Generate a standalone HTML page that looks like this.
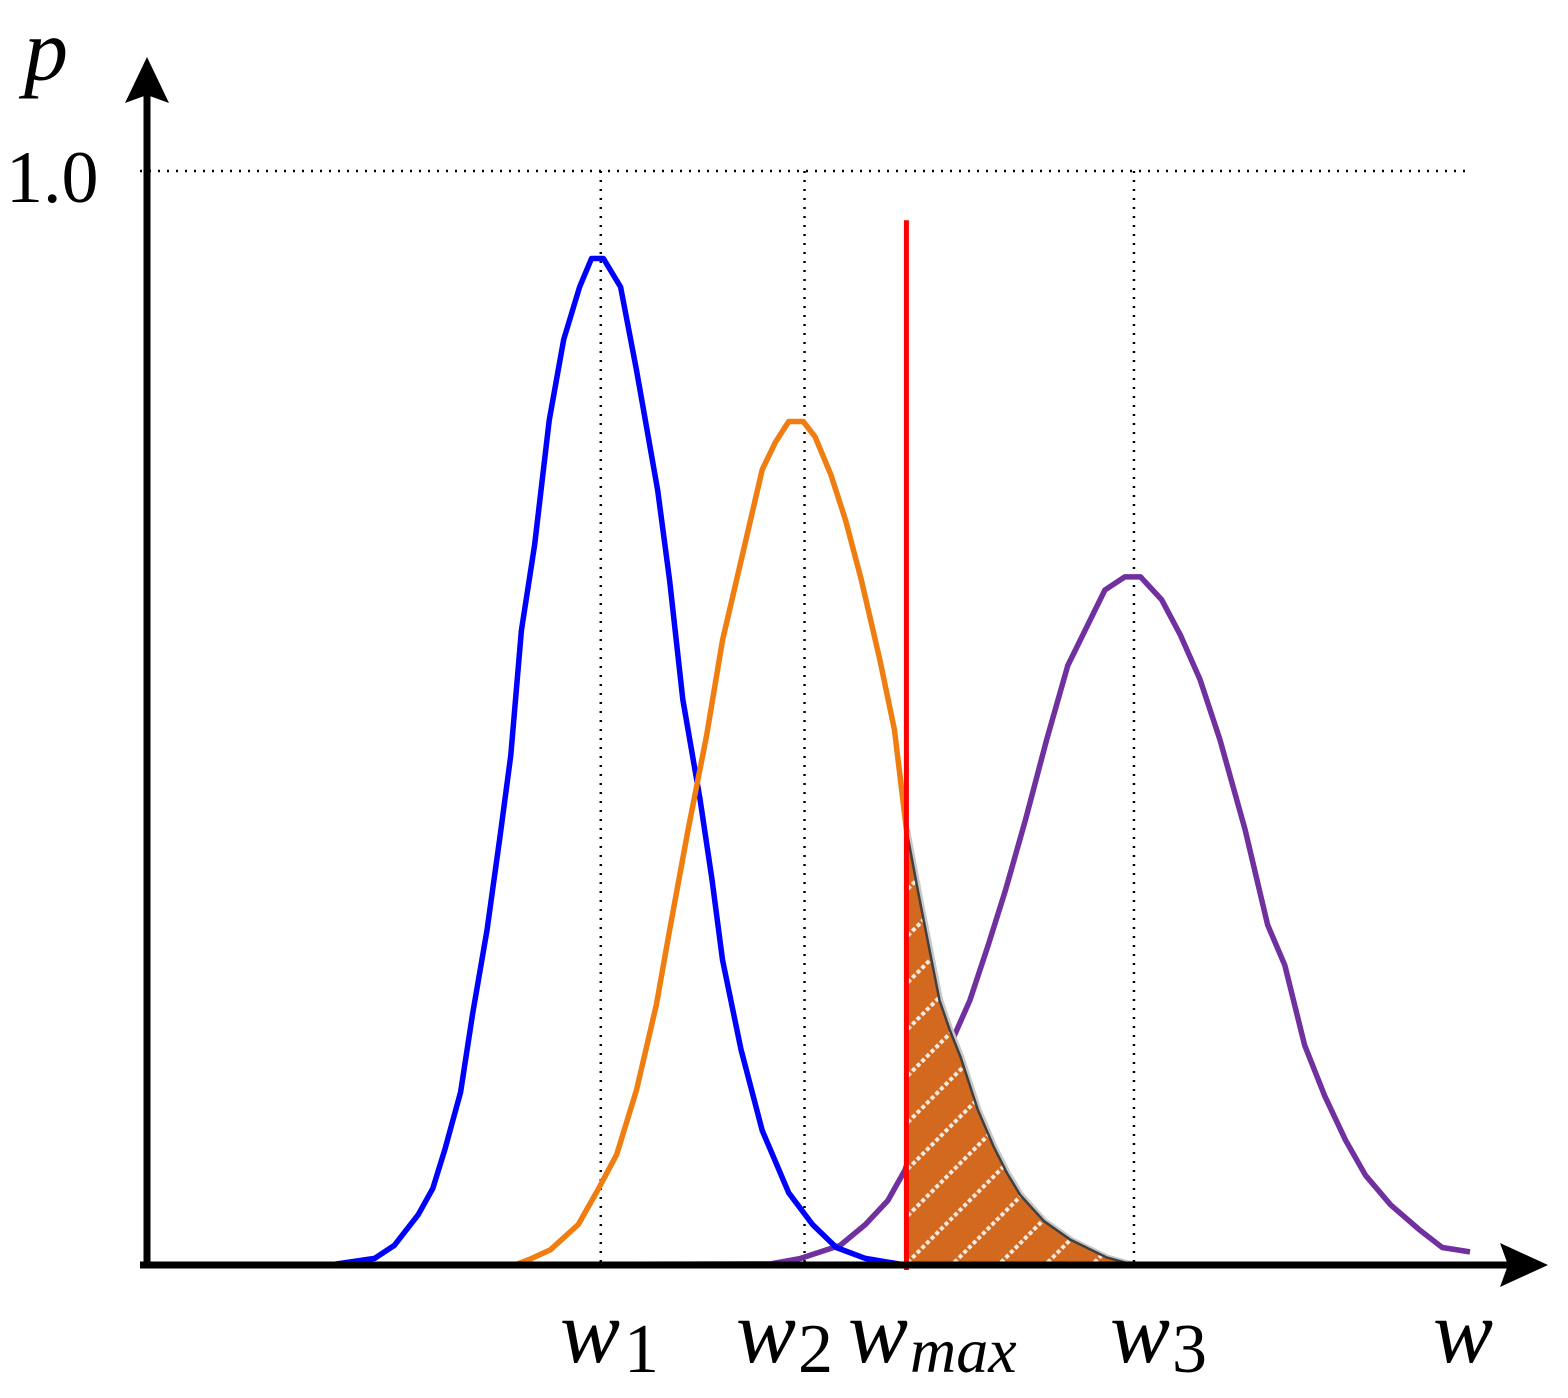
<!DOCTYPE html>
<html><head><meta charset="utf-8"><style>
html,body{margin:0;padding:0;background:#fff;}
svg{display:block;}
.lab{font-family:"Liberation Serif","Times New Roman",serif;fill:#000;}
</style></head><body>
<svg id="chart" width="1568" height="1398" viewBox="0 0 1568 1398" xmlns="http://www.w3.org/2000/svg">
<defs>
<pattern id="hatch" patternUnits="userSpaceOnUse" width="33" height="33" patternTransform="rotate(-45)">
<rect width="33" height="33" fill="#d2691e"/>
<line x1="0" y1="16.5" x2="33" y2="16.5" stroke="#f4ece4" stroke-width="4" stroke-dasharray="4 2.6"/>
</pattern>
</defs>
<g id="grid"></g>
<g id="marks"></g>
<g id="axes"></g>
<g id="labels"></g>
</svg>
<script>
// data: w in 0..100, p in 0..1
const blueW = [0,13.8,17.2,18.7,20.5,21.6,22.5,23.7,24.6,25.7,26.7,27.5,28.3,29.3,30.4,31.5,32.7,33.6,34.5,35.8,37.0,38.6,39.5,40.5,41.8,42.7,43.5,44.9,46.5,48.5,50.3,52.1,54.3,57.3,100];
const blueP = [0,0,.006,.018,.046,.070,.105,.158,.229,.306,.393,.466,.580,.658,.772,.846,.894,.920,.920,.894,.818,.708,.626,.517,.426,.353,.279,.197,.123,.066,.037,.016,.006,0,0];
const orangeW = [27.8,28.9,30.5,32.6,34.1,35.5,37.0,38.5,39.5,40.9,42.3,43.5,45.0,46.5,47.5,48.5,49.6,50.5,51.7,52.8,54.0,55.4,56.5,57.4,58.4,59.2,59.9,60.7,61.5,62.8,64.0,65.0,66.0,67.8,69.8,72.5,74.6];
const orangeP = [0,.005,.014,.037,.069,.101,.160,.238,.306,.398,.484,.571,.649,.727,.752,.771,.771,.757,.722,.681,.626,.553,.489,.398,.334,.285,.242,.214,.190,.142,.108,.084,.064,.040,.023,.007,0];
const purpleW = [0,13.8,47.1,49.4,52.4,54.3,56.0,57.3,58.8,60.7,62.2,63.6,64.9,66.4,68.0,69.6,70.9,72.4,73.9,75.1,76.7,78.1,79.6,81.1,83.0,84.7,86.0,87.5,89.0,90.6,92.1,94.0,96.2,97.9,100];
const purpleP = [0,0,.001,.006,.018,.037,.059,.087,.142,.201,.242,.293,.343,.407,.480,.548,.580,.617,.629,.629,.608,.576,.535,.480,.398,.311,.274,.201,.155,.114,.082,.055,.032,.016,.012];
const markerW = [34.3,49.7,74.6];
const markerNames = ['w1','w2','w3'];
const wMax = 57.4;
const wMaxTop = 0.955;
const refP = 1.0;

const NS='http://www.w3.org/2000/svg';
const X0=147, X1=1470, Y0=1265, Y1=171;
const sx=w=>X0+(X1-X0)*w/100;
const sy=p=>Y0-(Y0-Y1)*p;
function mk(tag,attrs,parent){const e=document.createElementNS(NS,tag);for(const k in attrs)e.setAttribute(k,attrs[k]);parent.appendChild(e);return e;}
const grid=document.getElementById('grid'),marks=document.getElementById('marks'),axes=document.getElementById('axes');

let g1=mk('line',{x1:140,y1:sy(refP),x2:X1,y2:sy(refP),stroke:'#000','stroke-width':2.5,'stroke-dasharray':'2 7'},grid);


markerW.forEach((w,i)=>{
  const l=mk('line',{x1:sx(w),y1:sy(refP),x2:sx(w),y2:Y0,stroke:'#000','stroke-width':2.5,'stroke-dasharray':'2 7'},grid);
  
  
});

function pts(W,P){return W.map((w,i)=>sx(w).toFixed(1)+','+sy(P[i]).toFixed(1)).join(' ');}

let pu=mk('polyline',{points:pts(purpleW,purpleP),fill:'none',stroke:'#7030a0','stroke-width':5.5,'stroke-linejoin':'round'},marks);


let bl=mk('polyline',{points:pts(blueW,blueP),fill:'none',stroke:'#0000ff','stroke-width':5.5,'stroke-linejoin':'round'},marks);


let or=mk('polyline',{points:pts(orangeW,orangeP),fill:'none',stroke:'#f07d10','stroke-width':5.5,'stroke-linejoin':'round'},marks);



const tW=[],tP=[];
orangeW.forEach((w,i)=>{if(w>=wMax){tW.push(w);tP.push(orangeP[i]);}});
let d='M'+sx(wMax)+','+Y0+' L'+tW.map((w,i)=>sx(w).toFixed(1)+','+sy(tP[i]).toFixed(1)).join(' L')+' L'+sx(tW[tW.length-1])+','+Y0+' Z';
let ar=mk('path',{d:d,fill:'url(#hatch)',stroke:'none'},marks);


let edge2=mk('polyline',{points:pts(tW,tP),fill:'none',stroke:'#c8c8c8','stroke-width':3,transform:'translate(2,-1)','stroke-linejoin':'round'},marks);


let edge=mk('polyline',{points:pts(tW,tP),fill:'none',stroke:'#404040','stroke-width':2.5,'stroke-linejoin':'round'},marks);



let rl=mk('line',{x1:sx(wMax),y1:sy(wMaxTop),x2:sx(wMax),y2:Y0+5,stroke:'#ff0000','stroke-width':5},marks);



let xa=mk('line',{x1:140,y1:Y0,x2:1510,y2:Y0,stroke:'#000','stroke-width':7},axes);


let xh=mk('polygon',{points:'1548,1265 1500,1243 1508,1265 1500,1287',fill:'#000'},axes);


let ya=mk('line',{x1:X0,y1:1268,x2:X0,y2:95,stroke:'#000','stroke-width':7},axes);


let yh=mk('polygon',{points:'147,57 125,103 147,95 169,103',fill:'#000'},axes);


</script>
<script>
(function(){
const NS='http://www.w3.org/2000/svg';
const L=document.getElementById('labels');
function t(x,y,size,style,parts,name){
  const e=document.createElementNS(NS,'text');
  e.setAttribute('x',x);e.setAttribute('y',y);e.setAttribute('class','lab');
  e.setAttribute('font-family','"Liberation Serif", "Times New Roman", serif');
  e.setAttribute('font-size',size);
  if(style)e.setAttribute('font-style',style);
  e.innerHTML=parts;
  
  
  L.appendChild(e);
}
t(24,80,88,'italic','p','y-axis-title');
t(6,202,74,null,'1.0','y-tick-1');
t(560,1362,90,'italic','w<tspan font-style="normal" font-size="70" dy="10" dx="4">1</tspan>','w1-label');
t(736,1362,90,'italic','w<tspan font-style="normal" font-size="70" dy="10" dx="2">2</tspan>','w2-label');
t(848,1362,90,'italic','w<tspan font-size="64" dy="10" dx="2">max</tspan>','wmax-label');
t(1110,1362,90,'italic','w<tspan font-style="normal" font-size="70" dy="10" dx="2">3</tspan>','w3-label');
t(1433,1362,90,'italic','w','x-axis-title');
})();
</script>
</body></html>
